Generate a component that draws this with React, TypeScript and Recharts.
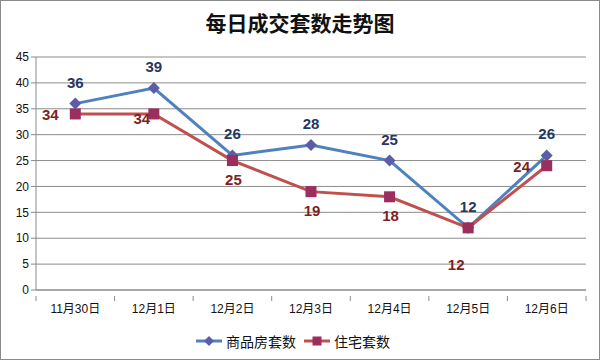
import { LineChart, Line, XAxis, YAxis, CartesianGrid, Legend, LabelList } from 'recharts';

const days = ['11月30日', '12月1日', '12月2日', '12月3日', '12月4日', '12月5日', '12月6日'];
const commercial = [36, 39, 26, 28, 25, 12, 26];
const residential = [34, 34, 25, 19, 18, 12, 24];
const yTicks = [0, 5, 10, 15, 20, 25, 30, 35, 40, 45];

// where each residential label sits relative to its point
const residentialPlacement = ['left', 'belowLeft', 'below', 'below', 'below', 'farBelowLeft', 'left'];

const data = days.map((day, i) => ({ day, commercial: commercial[i], residential: residential[i] }));

const font = '"Liberation Sans", Arial, "Noto Sans CJK SC", sans-serif';
const cjk = '"Noto Sans CJK SC", sans-serif';
const BLUE = '#4f81bd';
const RED = '#c0504d';
const BLUE_DOT = '#5b5ea6';
const RED_DOT = '#9b2d5f';

const Diamond = (props: any) => {
  const { cx, cy } = props;
  if (cx == null || cy == null) return null;
  return <path d={`M${cx},${cy - 6}L${cx + 6},${cy}L${cx},${cy + 6}L${cx - 6},${cy}Z`} fill={BLUE_DOT} />;
};

const Square = (props: any) => {
  const { cx, cy } = props;
  if (cx == null || cy == null) return null;
  return <rect x={cx - 5.5} y={cy - 5.5} width={11} height={11} fill={RED_DOT} />;
};

const blueLabel = (props: any) => {
  const { x, y, value } = props;
  return (
    <text x={x} y={y - 16} textAnchor="middle" fill="#1f3864" fontSize={15} fontWeight="bold" fontFamily={font}>
      {value}
    </text>
  );
};

const redLabel = (props: any) => {
  const { x, y, value, index } = props;
  const p = residentialPlacement[index];
  let dx = 0;
  let dy = 0;
  if (p === 'left') { dx = -25; dy = 6; }
  if (p === 'below') { dx = 1; dy = 24; }
  if (p === 'belowLeft') { dx = -12; dy = 10; }
  if (p === 'farBelowLeft') { dx = -12; dy = 42; }
  return (
    <text x={x + dx} y={y + dy} textAnchor="middle" fill="#7f1f1f" fontSize={15} fontWeight="bold" fontFamily={font}>
      {value}
    </text>
  );
};

// category label with tick marks on the band edges
const DayTick = (props: any) => {
  const { x, y, payload, index } = props;
  const half = payload && payload.offset ? payload.offset : 39;
  return (
    <g>
      <line x1={x - half} y1={y - 2} x2={x - half} y2={y + 3} stroke="#8c8c8c" />
      {index === days.length - 1 && <line x1={x + half} y1={y - 2} x2={x + half} y2={y + 3} stroke="#8c8c8c" />}
      <text x={x} y={y + 15} textAnchor="middle" fill="#111" fontSize={12} fontFamily={font}>
        {payload.value}
      </text>
    </g>
  );
};

const LegendBox = () => (
  <div style={{ display: 'flex', justifyContent: 'center', alignItems: 'center', paddingTop: 11, fontFamily: cjk, fontSize: 14, color: '#111' }}>
    <svg width={26} height={12} style={{ marginRight: 4 }}>
      <line x1={0} y1={6} x2={26} y2={6} stroke={BLUE} strokeWidth={3} />
      <path d="M13,1L18,6L13,11L8,6Z" fill={BLUE_DOT} />
    </svg>
    <span style={{ marginRight: 8 }}>商品房套数</span>
    <svg width={26} height={12} style={{ marginRight: 4 }}>
      <line x1={0} y1={6} x2={26} y2={6} stroke={RED} strokeWidth={3} />
      <rect x={8.5} y={1.5} width={9} height={9} fill={RED_DOT} />
    </svg>
    <span>住宅套数</span>
  </div>
);

export default function App() {
  return (
    <div style={{ position: 'absolute', left: 0, top: 0, width: 600, height: 360, background: '#fff', fontFamily: font }}>
      <div style={{ position: 'absolute', left: 0, top: 0, width: 598, height: 358, border: '1px solid #8a8a8a' }} />
      <div style={{ position: 'absolute', left: 0, top: 7, width: 600, textAlign: 'center', fontSize: 21, fontWeight: 'bold', fontFamily: cjk, color: '#111' }}>
        每日成交套数走势图
      </div>
      <LineChart width={600} height={360} data={data} margin={{ top: 57, right: 14, left: 0, bottom: 0 }} style={{ position: 'absolute', left: 0, top: 0 }}>
        <CartesianGrid vertical={false} stroke="#8c8c8c" strokeWidth={1} />
        <XAxis
          dataKey="day"
          scale="band"
          height={30}
          stroke="#8c8c8c"
          tickLine={false}
          tick={<DayTick />}
          interval={0}
        />
        <YAxis
          domain={[0, 45]}
          ticks={yTicks}
          width={36}
          stroke="#8c8c8c"
          tickSize={5}
          tick={{ fill: '#111', fontSize: 12, fontFamily: font }}
        />
        <Legend verticalAlign="bottom" height={40} content={<LegendBox />} wrapperStyle={{ bottom: 0 }} />
        <Line
          type="linear"
          dataKey="commercial"
          name="商品房套数"
          stroke={BLUE}
          strokeWidth={3}
          dot={<Diamond />}
          isAnimationActive={false}
        >
          <LabelList dataKey="commercial" content={blueLabel} />
        </Line>
        <Line
          type="linear"
          dataKey="residential"
          name="住宅套数"
          stroke={RED}
          strokeWidth={3}
          dot={<Square />}
          isAnimationActive={false}
        >
          <LabelList dataKey="residential" content={redLabel} />
        </Line>
      </LineChart>
    </div>
  );
}
